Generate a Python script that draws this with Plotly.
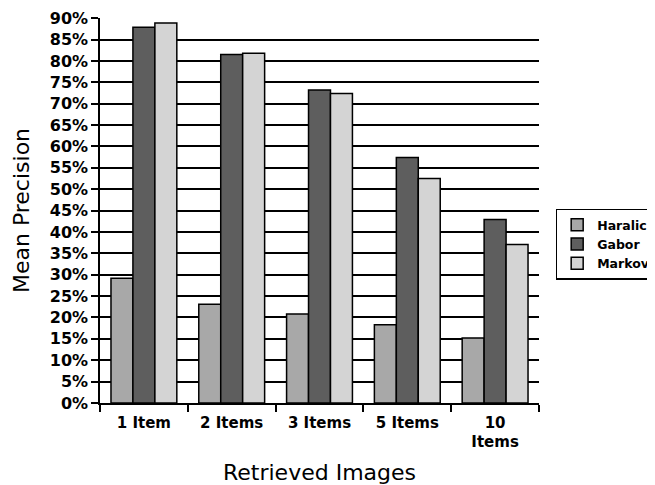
import plotly.graph_objects as go

categories = ["1 Item", "2 Items", "3 Items", "5 Items", "10<br>Items"]
haralick = [29.2, 23.1, 20.8, 18.3, 15.2]
gabor = [87.9, 81.5, 73.2, 57.4, 42.9]
markov = [88.9, 81.8, 72.4, 52.5, 37.1]
y_ticks = list(range(0, 95, 5))
y_tick_labels = [f"{v}%" for v in y_ticks]

series = [("Haralick", haralick, "#a8a8a8"),
          ("Gabor", gabor, "#5e5e5e"),
          ("Markov", markov, "#d4d4d4")]

fig = go.Figure()
for name, vals, col in series:
    fig.add_trace(go.Bar(name=name, x=categories, y=vals,
                         marker=dict(color=col, line=dict(color="black", width=1.5))))

font = "DejaVu Sans, sans-serif"
fig.update_layout(
    width=647, height=477,
    margin=dict(l=92, r=116, t=10, b=82, autoexpand=False),
    paper_bgcolor="white", plot_bgcolor="white",
    barmode="group", bargap=0.25, bargroupgap=0,
    font=dict(family=font, color="black", size=15),
    showlegend=True,
    legend=dict(x=1.038, y=0.505, xanchor="left", yanchor="top",
                bordercolor="black", borderwidth=1.5, bgcolor="white",
                font=dict(size=12.5, family=font, weight="bold"),
                tracegroupgap=0, itemwidth=30),
)
fig.update_yaxes(range=[0, 90.05], tickvals=y_ticks, ticktext=y_tick_labels,
                 showgrid=True, gridcolor="black", gridwidth=1.5,
                 showline=True, linecolor="black", linewidth=1.5,
                 ticks="outside", ticklen=7, tickwidth=1.5, tickcolor="black",
                 ticklabeloverflow="allow",
                 tickfont=dict(size=16, family=font, weight="bold"),
                 title=dict(text="Mean Precision", font=dict(size=22, family=font), standoff=14),
                 zeroline=False)
fig.update_xaxes(showline=True, linecolor="black", linewidth=1.5,
                 ticks="outside", tickson="boundaries", ticklen=7, tickwidth=1.5,
                 tickcolor="black", ticklabelstandoff=5,
                 tickfont=dict(size=15, family=font, weight="bold"),
                 title=dict(text="Retrieved Images", font=dict(size=22, family=font), standoff=14))

fig.write_html("out.html")
